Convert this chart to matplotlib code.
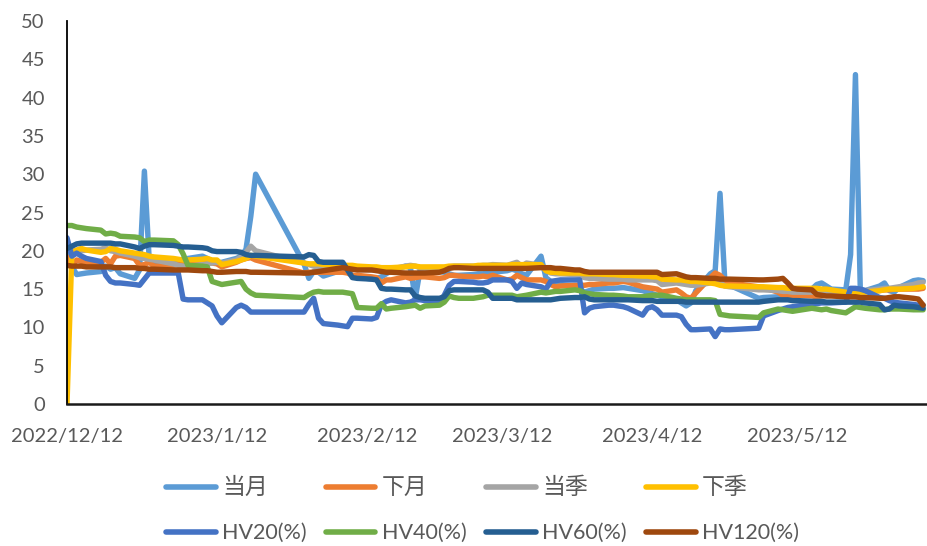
import datetime as dt
import matplotlib
matplotlib.use("Agg")
import matplotlib.pyplot as plt
from matplotlib.lines import Line2D

plt.rcParams['font.family'] = ['Lato', 'Noto Sans CJK SC', 'DejaVu Sans']

# ---- trading days (year, month, days) ----
trade_days = [
    (2022, 12, [12, 13, 14, 15, 16, 19, 20, 21, 22, 23, 26, 27, 28, 29, 30]),
    (2023, 1, [3, 4, 5, 6, 9, 10, 11, 12, 13, 16, 17, 18, 19, 20, 30, 31]),
    (2023, 2, [1, 2, 3, 6, 7, 8, 9, 10, 13, 14, 15, 16, 17, 20, 21, 22, 23, 24, 27, 28]),
    (2023, 3, [1, 2, 3, 6, 7, 8, 9, 10, 13, 14, 15, 16, 17, 20, 21, 22, 23, 24, 27, 28, 29, 30, 31]),
    (2023, 4, [3, 4, 6, 7, 10, 11, 12, 13, 14, 17, 18, 19, 20, 21, 24, 25, 26, 27, 28]),
    (2023, 5, [4, 5, 8, 9, 10, 11, 12, 15, 16, 17, 18, 19, 22, 23, 24, 25, 26, 29, 30, 31]),
    (2023, 6, [1, 2, 5, 6, 7]),
]
dates = [dt.date(y, m, d) for (y, m, ds) in trade_days for d in ds]

# ---- series values ----
dangyue = [20.0, 18.0, 16.9, 17.0, 17.1, 17.3, 18.0, 17.6, 17.8, 17.0, 16.4, 17.5, 30.4, 18.8, 18.5,
           18.3, 18.5, 18.8, 19.0, 19.3, 19.0, 18.6, 18.4, 18.5, 19.0, 19.3, 20.2, 24.5, 30.0, 18.3, 16.4,
           17.3, 17.2, 16.7, 17.3, 17.5, 17.3, 16.8, 16.6, 16.3, 16.4, 16.6, 17.0, 17.4, 18.0, 17.8, 13.8, 17.5, 17.4, 17.3, 17.2,
           17.0, 16.8, 16.8, 16.9, 17.0, 17.0, 17.1, 17.2, 17.4, 17.6, 17.4, 17.0, 16.8, 19.3, 16.5, 16.0, 15.7, 15.6, 15.4, 15.0, 14.6, 14.8, 15.0,
           15.1, 15.1, 15.2, 15.1, 14.8, 14.6, 14.4, 14.2, 14.0, 13.6, 13.2, 12.8, 13.2, 14.8, 17.0, 17.4, 27.5, 16.0, 15.5,
           13.8, 13.9, 14.0, 14.2, 14.4, 14.5, 14.6, 15.0, 15.6, 15.8, 15.4, 15.0, 14.9, 19.5, 43.0, 15.0, 14.8, 15.4, 15.8, 14.8,
           14.6, 15.2, 16.1, 16.2, 16.1]
xiayue = [19.2, 18.0, 18.8, 18.6, 18.4, 18.5, 19.0, 18.3, 19.3, 19.4, 19.0, 18.1, 18.2, 18.5, 18.0,
          18.1, 18.3, 18.3, 18.4, 18.4, 18.4, 18.4, 18.3, 17.9, 18.5, 18.8, 19.0, 19.1, 18.8, 17.1, 17.2,
          17.2, 17.2, 17.2, 17.2, 17.2, 17.1, 16.8, 16.8, 16.6, 16.5, 15.8, 16.2, 16.2, 16.6, 16.4, 16.5, 16.6, 16.6, 16.4, 16.5,
          16.8, 16.8, 16.7, 16.6, 16.6, 16.7, 16.6, 16.8, 16.2, 16.3, 16.8, 16.5, 16.2, 16.2, 16.0, 15.6, 15.3, 15.4, 15.5, 15.5, 15.5, 15.6, 15.6,
          15.8, 15.8, 16.0, 15.9, 15.3, 15.2, 15.1, 15.0, 14.6, 14.9, 14.5, 14.0, 13.8, 14.5, 16.5, 17.1, 16.8, 16.2, 15.8,
          15.3, 15.2, 14.6, 14.2, 14.0, 14.1, 14.2, 14.1, 14.0, 14.1, 14.2, 14.3, 14.5, 14.5, 14.7, 14.7, 14.7, 14.8, 14.9, 14.9,
          15.0, 15.0, 15.0, 15.0, 15.1]
dangji = [20.2, 20.0, 20.0, 20.0, 20.1, 20.2, 20.4, 20.0, 19.9, 19.7, 19.3, 19.1, 19.0, 18.9, 18.8,
          18.3, 18.1, 18.0, 18.0, 18.2, 18.3, 18.4, 18.5, 18.4, 18.8, 19.2, 19.8, 20.6, 20.0, 18.4, 18.2,
          18.0, 17.9, 17.9, 17.8, 17.8, 17.7, 17.6, 17.6, 17.5, 17.5, 17.4, 17.5, 17.6, 18.0, 18.1, 18.0, 17.8, 17.7, 17.7, 17.8,
          17.9, 18.0, 18.0, 18.0, 18.0, 18.1, 18.1, 18.2, 18.1, 18.3, 18.5, 18.0, 18.4, 18.1, 17.5, 17.1, 17.0, 17.0, 16.9, 16.8, 16.5, 16.4, 16.4,
          16.3, 16.3, 16.3, 16.2, 16.2, 16.2, 16.2, 16.1, 15.6, 15.8, 15.7, 15.6, 15.5, 15.5, 15.8, 16.0, 15.8, 15.4, 15.3,
          14.9, 14.9, 14.8, 14.7, 14.7, 14.6, 14.6, 14.6, 14.6, 14.6, 14.6, 14.6, 14.5, 14.5, 14.6, 14.7, 14.8, 15.0, 15.1, 15.1,
          15.2, 15.3, 15.6, 15.8, 15.9]
xiaji = [0.0, 19.7, 20.1, 20.3, 20.1, 19.8, 19.9, 20.3, 20.2, 20.0, 19.7, 19.6, 19.5, 19.3, 19.2,
         19.0, 18.9, 18.8, 18.8, 18.9, 19.0, 18.8, 18.8, 18.2, 18.6, 18.8, 19.0, 19.4, 19.3, 18.4, 18.3,
         18.3, 18.3, 18.2, 18.2, 18.1, 18.1, 18.1, 18.0, 17.9, 17.9, 17.8, 17.8, 17.8, 17.9, 18.0, 18.0, 17.9, 17.9, 17.9, 17.9,
         18.0, 18.0, 18.0, 18.0, 18.1, 18.1, 18.1, 18.1, 18.1, 18.2, 18.2, 18.2, 18.2, 18.2, 17.4, 17.2, 17.2, 17.1, 17.1, 17.1, 17.0, 17.0, 17.0,
         16.9, 16.9, 16.8, 16.8, 16.7, 16.7, 16.6, 16.6, 16.3, 16.2, 16.2, 16.1, 16.0, 16.0, 15.8, 15.7, 15.5, 15.4, 15.4,
         15.3, 15.3, 15.2, 15.2, 15.1, 15.1, 15.1, 15.1, 15.1, 15.0, 15.0, 14.9, 14.6, 14.4, 14.5, 14.6, 14.6, 14.8, 14.9, 15.0,
         15.0, 15.0, 15.1, 15.2, 15.3]
hv20 = [21.7, 19.3, 19.7, 19.3, 19.0, 18.6, 16.8, 16.0, 15.8, 15.8, 15.6, 15.5, 16.3, 17.1, 17.1,
        17.1, 17.1, 13.7, 13.6, 13.6, 13.2, 12.8, 11.5, 10.6, 12.6, 12.9, 12.6, 12.0, 12.0, 12.0, 13.0,
        13.8, 11.2, 10.5, 10.3, 10.2, 10.1, 11.2, 11.2, 11.1, 11.3, 13.0, 13.4, 13.6, 13.2, 13.3, 13.6, 13.6, 13.5, 13.3, 14.2,
        15.5, 16.0, 16.0, 15.9, 15.8, 15.8, 15.9, 16.2, 16.2, 16.0, 15.1, 15.8, 15.6, 15.3, 15.0, 16.0, 16.1, 16.2, 16.2, 16.2, 11.9, 12.5, 12.7,
        12.9, 12.9, 12.7, 12.5, 11.6, 12.5, 12.7, 12.3, 11.6, 11.6, 11.4, 10.4, 9.7, 9.7, 9.8, 8.8, 9.8, 9.7, 9.7,
        9.9, 11.5, 12.2, 12.4, 12.6, 12.7, 12.8, 13.0, 13.1, 13.2, 13.2, 13.2, 13.3, 15.1, 15.1, 15.0, 14.8, 13.9, 13.8, 13.5,
        13.3, 13.2, 13.0, 12.9, 12.9]
hv40 = [23.3, 23.3, 23.1, 23.0, 22.9, 22.7, 22.2, 22.3, 22.2, 21.9, 21.8, 21.7, 21.2, 21.4, 21.4,
        21.3, 20.8, 19.6, 18.1, 18.0, 17.9, 16.0, 15.8, 15.6, 15.9, 16.0, 15.0, 14.5, 14.2, 13.9, 14.3,
        14.6, 14.7, 14.6, 14.6, 14.6, 14.5, 14.4, 12.6, 12.5, 12.5, 13.1, 12.4, 12.5, 12.7, 12.8, 12.9, 12.5, 12.8, 12.9, 13.3,
        14.1, 13.9, 13.8, 13.8, 13.9, 14.0, 14.2, 14.2, 14.2, 14.2, 14.0, 14.1, 14.2, 14.6, 14.5, 14.6, 14.7, 14.7, 14.9, 14.8, 14.5, 14.4, 14.3,
        14.2, 14.2, 14.1, 14.0, 14.0, 14.1, 14.2, 14.2, 14.2, 13.8, 13.7, 13.6, 13.6, 13.6, 13.6, 13.5, 11.7, 11.6, 11.5,
        11.3, 11.9, 12.4, 12.3, 12.2, 12.1, 12.2, 12.5, 12.4, 12.3, 12.4, 12.2, 11.9, 12.3, 12.7, 12.6, 12.5, 12.3, 12.3, 12.4,
        12.4, 12.4, 12.3, 12.3, 12.3]
hv60 = [20.3, 20.6, 20.9, 21.0, 21.0, 21.0, 21.0, 21.0, 20.9, 20.9, 20.5, 20.3, 20.6, 20.8, 20.8,
        20.7, 20.6, 20.5, 20.5, 20.4, 20.3, 20.0, 19.9, 19.9, 19.9, 19.8, 19.5, 19.4, 19.4, 19.2, 19.5,
        19.4, 18.6, 18.5, 18.5, 18.5, 17.5, 16.5, 16.4, 16.3, 16.2, 15.1, 15.0, 15.0, 14.9, 14.9, 14.1, 13.9, 13.8, 13.8, 14.0,
        14.8, 14.9, 14.9, 14.9, 14.9, 14.9, 14.6, 13.8, 13.8, 13.8, 13.6, 13.6, 13.6, 13.6, 13.6, 13.6, 13.7, 13.8, 13.9, 13.9, 14.0, 13.7, 13.6,
        13.6, 13.6, 13.6, 13.6, 13.5, 13.5, 13.5, 13.4, 13.4, 13.4, 13.4, 13.3, 13.3, 13.3, 13.3, 13.3, 13.3, 13.3, 13.3,
        13.3, 13.4, 13.6, 13.6, 13.6, 13.5, 13.5, 13.4, 13.4, 13.4, 13.3, 13.3, 13.3, 13.3, 13.3, 13.3, 13.2, 13.0, 12.3, 12.4,
        12.9, 12.8, 12.7, 12.6, 12.5]
hv120 = [18.1, 18.0, 18.0, 18.0, 17.9, 17.9, 17.9, 17.9, 17.8, 17.8, 17.8, 17.7, 17.7, 17.6, 17.6,
         17.5, 17.5, 17.5, 17.5, 17.4, 17.4, 17.3, 17.2, 17.2, 17.3, 17.3, 17.3, 17.2, 17.2, 17.1, 17.1,
         17.2, 17.3, 17.4, 17.7, 17.8, 17.7, 17.6, 17.5, 17.5, 17.4, 17.3, 17.2, 17.2, 17.1, 17.1, 17.1, 17.1, 17.1, 17.2, 17.4,
         17.7, 17.8, 17.8, 17.7, 17.7, 17.7, 17.7, 17.7, 17.7, 17.7, 17.7, 17.7, 17.7, 17.8, 17.8, 17.8, 17.7, 17.7, 17.5, 17.5, 17.3, 17.2, 17.2,
         17.2, 17.2, 17.2, 17.2, 17.2, 17.2, 17.2, 17.2, 16.9, 17.0, 16.8, 16.6, 16.5, 16.5, 16.4, 16.4, 16.3, 16.3, 16.3,
         16.2, 16.2, 16.3, 16.4, 15.8, 15.1, 15.0, 14.9, 14.3, 14.2, 14.1, 14.1, 14.0, 14.0, 14.0, 13.9, 13.9, 13.8, 13.8, 13.9,
         14.0, 14.0, 13.8, 13.7, 12.9]

series_names = ["当月", "下月", "当季", "下季", "HV20(%)", "HV40(%)", "HV60(%)", "HV120(%)"]
series_values = [dangyue, xiayue, dangji, xiaji, hv20, hv40, hv60, hv120]
series_colors = ["#5B9BD5", "#ED7D31", "#A5A5A5", "#FFC000", "#4472C4", "#70AD47", "#255E91", "#9E480E"]

xtick_dates = [dt.date(2022, 12, 12), dt.date(2023, 1, 12), dt.date(2023, 2, 12),
               dt.date(2023, 3, 12), dt.date(2023, 4, 12), dt.date(2023, 5, 12)]
xtick_labels = ["2022/12/12", "2023/1/12", "2023/2/12", "2023/3/12", "2023/4/12", "2023/5/12"]
yticks = [0, 5, 10, 15, 20, 25, 30, 35, 40, 45, 50]

W, H = 928, 546
fig = plt.figure(figsize=(W / 100, H / 100), dpi=100)
ax = fig.add_axes([67 / W, 1 - 404 / H, 861 / W, 383 / H])

for name, vals, col in zip(series_names, series_values, series_colors):
    ax.plot(dates, vals, color=col, lw=3.9, label=name,
            solid_joinstyle='round', solid_capstyle='round')

ax.set_ylim(0, 50)
ax.set_yticks(yticks)
ax.set_xlim(dt.date(2022, 12, 12), dt.date(2022, 12, 12) + dt.timedelta(days=178))
ax.set_xticks(xtick_dates)
ax.set_xticklabels(xtick_labels)

for s in ['top', 'right']:
    ax.spines[s].set_visible(False)
ax.spines['left'].set_color('#000000')
ax.spines['left'].set_linewidth(1.3)
ax.spines['bottom'].set_color('#1a1a1a')
ax.spines['bottom'].set_linewidth(1.8)
ax.tick_params(axis='both', length=0, labelsize=14.5, colors='#595959')
ax.tick_params(axis='y', pad=16)
ax.tick_params(axis='x', pad=17)

order = [0, 4, 1, 5, 2, 6, 3, 7]
handles = [Line2D([0], [0], color=series_colors[i], lw=4.0, solid_capstyle='round') for i in order]
labels = [series_names[i] for i in order]
leg = fig.legend(handles, labels, ncol=4, frameon=False, loc='upper left',
                 bbox_to_anchor=(166 / W, 1 - 477 / H), borderpad=0, borderaxespad=0,
                 handlelength=2.3, handletextpad=0.3, columnspacing=0.9, labelspacing=1.15,
                 fontsize=15.5)
for t in leg.get_texts():
    t.set_color('#595959')
    if not t.get_text().startswith('HV'):
        t.set_fontsize(16.5)

fig.savefig("out.png", dpi=100)
